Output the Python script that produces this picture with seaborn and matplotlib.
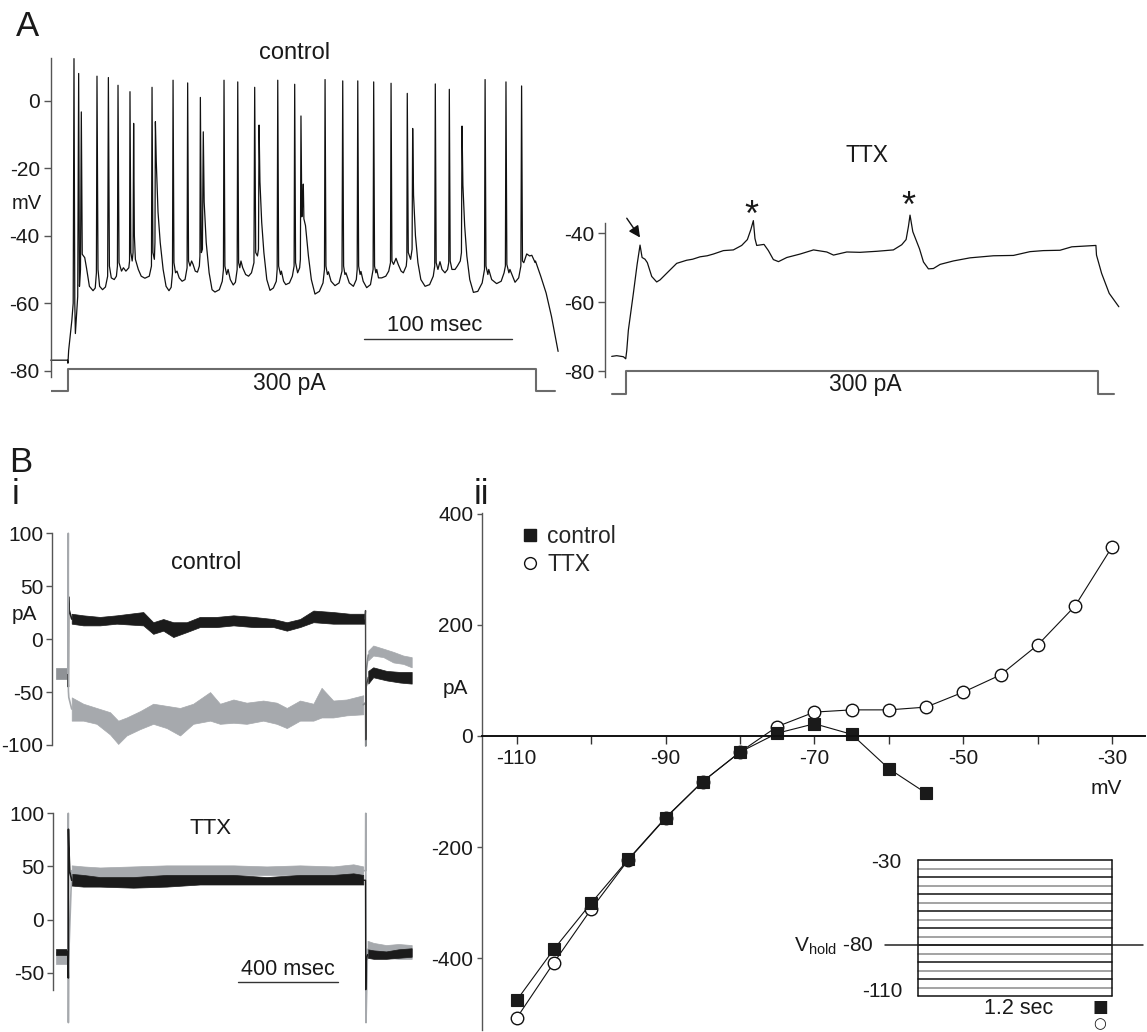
import numpy as np
import pandas as pd
import matplotlib
matplotlib.use("Agg")
import matplotlib.pyplot as plt
from matplotlib.lines import Line2D
import seaborn as sns

sns.set_theme(style="ticks")
plt.rcParams["font.family"] = ["Liberation Sans", "DejaVu Sans"]
plt.rcParams["mathtext.default"] = "regular"

# ---------------- DATA ----------------
# Panel A, control: membrane potential key points (ms, mV)
ctrl_pts = [
    (0, -76.9), (11.5, -76.9), (11.8, -77.8), (12.3, -74), (14.5, -65), (15.4, -60), (15.95, 12.5),
    (16.5, -60), (16.9, -69), (18.5, -58), (19.15, 8.1), (19.7, -55), (20.4, -50), (20.97, -3.3),
    (21.6, -45.5), (23.3, -46.5), (24.5, -49.5), (26.5, -55), (29.0, -56.3), (30.5, -55.5), (31.3, -51),
    (31.7, 7.3), (32.4, -50), (33.5, -55), (35.5, -56.0), (37.5, -55.2), (39.0, -52), (39.5, 6.9),
    (40.2, -49), (41.5, -52.5), (43.5, -53), (45.0, -52), (45.7, -49), (46.1, 4.6), (46.8, -48),
    (48.5, -50.5), (49.8, -49.5), (51.5, -50.5), (53.5, -49.5), (54.0, -47.5), (54.3, 2.7), (54.9, -45),
    (55.8, -47.5), (56.4, -45), (56.8, -6.7), (57.3, -40), (58.0, -47), (60, -50), (62, -52),
    (64.5, -52.6), (67.5, -52), (69.0, -49), (69.4, 4.0), (70.0, -45), (71.0, -47), (71.4, -42),
    (71.7, -6.2), (72.3, -18), (73.5, -33), (75.0, -42), (77.0, -50), (79.0, -55), (81.0, -56.3),
    (82.5, -55.3), (83.4, -51), (83.8, 6.1), (84.4, -48), (85.5, -51), (86.5, -50.5), (88.0, -52.5),
    (90.0, -53.5), (92.0, -53), (93.4, -49.5), (93.8, 5.3), (94.4, -47.5), (95.4, -49), (96.5, -47.5),
    (97.5, -48.5), (99.0, -50.5), (100.5, -50.8), (101.8, -49), (102.2, -46), (102.5, 1.0), (103.2, -45),
    (103.9, -44), (104.5, -9.2), (105.1, -30), (106.5, -42), (108.5, -51), (110.5, -56), (112.5, -56.7),
    (115.5, -56), (117.5, -53.5), (118.3, -50), (118.7, 6.1), (119.3, -49), (120.5, -51.5), (121.5, -50),
    (123.0, -53), (125.0, -54.6), (126.5, -53.8), (127.7, -50), (128.1, 5.6), (128.7, -48), (129.5, -49.5),
    (130.3, -47.5), (131.5, -49.5), (133.5, -51.5), (135.5, -52), (137.5, -51), (139.2, -48), (139.7, 4.0),
    (140.4, -45), (141.6, -46), (142.3, -44), (142.7, -7.2), (143.3, -24), (144.5, -36), (146.0, -45),
    (148.0, -53), (150.2, -56.2), (152.5, -55.5), (154.5, -53.5), (155.1, -50), (155.5, 6.1), (156.1, -49),
    (157.4, -51.5), (158.0, -50.5), (159.5, -53.5), (161.0, -54.5), (163.5, -54), (165.5, -52), (166.7, -49),
    (167.1, 4.9), (167.7, -48), (169.1, -51), (170.5, -49.5), (171.0, -47), (171.4, -4.5), (172.0, -34.4),
    (172.6, -30), (173.0, -24.7), (173.4, -35), (174.5, -37), (176.5, -46), (178.5, -53), (181.0, -57.3),
    (184.0, -56.5), (186.5, -54), (187.5, -50), (187.9, 6.3), (188.5, -49), (189.5, -51.5), (190.2, -50.7),
    (192.0, -53.5), (194.7, -54.8), (197.5, -54), (199.5, -50.5), (200.0, 5.9), (200.6, -49), (201.5, -51.5),
    (202.2, -51), (204.5, -54), (207.3, -55), (209.3, -53), (209.9, -50), (210.3, 5.9), (210.9, -49),
    (211.9, -51.5), (212.5, -50.6), (214.0, -53.5), (216.4, -55.4), (219.0, -54.5), (220.8, -50), (221.2, 5.6),
    (221.8, -49), (222.7, -51), (223.3, -50), (224.5, -52.5), (226.7, -52.5), (229.5, -52), (231.5, -50.5),
    (232.7, -48), (233.1, 5.2), (233.7, -47.5), (234.8, -48.5), (236.5, -46.7), (238.0, -48.5), (240.0, -50.5),
    (241.5, -51), (243.5, -49), (243.9, -47), (244.2, 2.2), (244.9, -45), (246.5, -47), (247.5, -44),
    (247.9, -8.2), (248.5, -28), (249.8, -40), (251.5, -48), (253.5, -53), (256.4, -55), (259.5, -54.5),
    (262.0, -52), (263.0, -49), (263.4, 5.0), (264.0, -48), (265.2, -50), (266.6, -47.7), (268.0, -50),
    (270.0, -51), (271.8, -50), (272.6, -48), (273.0, 3.4), (273.6, -47.5), (274.8, -50), (276.9, -50),
    (278.5, -49), (280.5, -47.5), (281.3, -45), (281.7, -7.5), (282.3, -25), (283.5, -37), (285.0, -46),
    (287.0, -53), (289.5, -56.8), (292.5, -56.5), (295.5, -54), (297.1, -50), (297.5, 6.3), (298.1, -49),
    (299.4, -51.5), (300.0, -50), (302.0, -53), (305.4, -54.2), (308.5, -53.5), (310.5, -51), (311.4, -49),
    (311.8, 5.6), (312.4, -48.5), (313.8, -51), (314.5, -50), (318.0, -53.8), (320.5, -52.5), (322.0, -49),
    (322.5, 4.4), (323.1, -47.5), (324.0, -48), (326.0, -45.4), (328.0, -46), (329.5, -45.8), (331.7, -47.9),
    (332.0, -47.5), (335.6, -52), (339.3, -57), (343.0, -64), (347.5, -74.3),
]
# Panel A, TTX: membrane potential key points (ms, mV)
ttx_pts = [
    (4.6, -75.7), (8, -75.5), (12.6, -75.8), (14.2, -76.4), (14.9, -74), (16.0, -68.1), (19.4, -57.5),
    (22, -49), (24.0, -43.4), (25.4, -47.0), (27.4, -47.5), (29.0, -48.5), (32.0, -52.5), (35.4, -54.1),
    (37.7, -53.5), (42.2, -51.6), (49.1, -48.7), (55.9, -47.8), (60, -47.5), (65.1, -46.8), (70, -46.5),
    (74.2, -46.0), (81.1, -45.0), (87.9, -44.8), (93.6, -43.5), (97.5, -41.8), (99.8, -39), (101.6, -36.3),
    (102.7, -41.5), (103.9, -43.5), (108.9, -43.2), (111.9, -45), (115.3, -47.6), (118.8, -48.2),
    (124.5, -47.0), (133.6, -46.0), (142.8, -44.8), (151.9, -45.4), (156.5, -46.3), (165.6, -45.4),
    (174.7, -45.5), (186.1, -45.2), (197.5, -44.8), (203.2, -43.3), (206.2, -41.8), (207.8, -38),
    (208.9, -34.7), (210.8, -39.5), (213.1, -42), (215.4, -44.5), (218.1, -48.3), (221.5, -50.3),
    (224.9, -50.2), (229.5, -49.0), (238.6, -48.0), (250.0, -47.1), (266.0, -46.5), (279.7, -46.4),
    (291.1, -45.3), (300.2, -45.0), (311.6, -44.9), (319.7, -43.9), (336.2, -43.5), (336.6, -46.3),
    (340.1, -51.6), (345.3, -57.4), (351.9, -61.3),
]
ctrl_step_t = [0, 11.85, 11.85, 332.4, 332.4, 345.1]
ctrl_step_i = [0, 0, 300, 300, 0, 0]
ttx_step_t = [4.6, 14.4, 14.4, 337.5, 337.5, 348.6]
ttx_step_i = [0, 0, 300, 300, 0, 0]
a_ctrl_yticks = [0, -20, -40, -60, -80]
a_ttx_yticks = [-40, -60, -80]

# Panel B i, control: noisy current bands (ms, pA)
bc_gray_t = [13.7, 60.4, 114, 168, 201, 235, 289, 342, 396, 450, 503, 571, 611, 665, 718, 785, 839, 880,
             933, 987, 1020, 1067, 1121, 1188]
bc_gray_hi = [-55, -61, -65, -69, -77, -74, -68, -61, -63, -65, -61, -50, -61, -57, -60, -58, -60, -65,
              -58, -61, -46, -58, -57, -53]
bc_gray_lo = [-77, -77, -80, -90, -99, -91, -85, -80, -84, -91, -80, -77, -80, -79, -80, -77, -80, -84,
              -77, -77, -74, -74, -72, -71]
bc_black_t = [13.7, 60.4, 127.5, 194.6, 302, 342, 382.5, 422.8, 476.4, 530, 597, 665, 745.7, 826, 880,
              933, 987, 1067, 1134, 1195]
bc_black_hi = [24, 22.5, 21, 22.5, 25.6, 16, 19, 16, 16, 21, 21, 22.5, 21, 19, 16, 19, 27, 25.6, 24, 24]
bc_black_lo = [14.6, 13, 13, 14.6, 13, 5, 8, 2, 6.6, 11.4, 11.4, 13, 11.4, 11.4, 8, 11.4, 16, 14.6, 14.6, 14.6]
bc_pre_t = [-49.5, -2]
bc_pre_hi = [-27, -27]
bc_pre_lo = [-37.6, -37.6]
bc_post_gray_t = [1208, 1228, 1269, 1309, 1349, 1383]
bc_post_gray_hi = [-10.8, -6, -9, -12, -15.5, -17]
bc_post_gray_lo = [-20, -15.5, -17, -22, -23.4, -26.6]
bc_post_black_t = [1208, 1228, 1282, 1336, 1383]
bc_post_black_hi = [-30, -26.6, -30, -31, -31]
bc_post_black_lo = [-42, -36, -39, -41, -42]
bc_on_gray_t, bc_on_gray_v = [-2, 0, 0.5, 2, 13.7], [-32, 100, -49, -55, -66]
bc_on_black_t, bc_on_black_v = [-2, 0, 1, 3, 13.7], [-32, -45, 40, 28, 19]
bc_off_gray_t, bc_off_gray_v = [1188, 1197, 1198, 1200, 1208], [-62, -60, -101, -30, -15]
bc_off_black_t, bc_off_black_v = [1195, 1197, 1198, 1200, 1208], [19, 27, -95, -45, -36]
bi_ctrl_yticks = [100, 50, 0, -50, -100]

# Panel B i, TTX
bt_t = [13.7, 60.4, 127.5, 261.7, 396, 530, 665, 799, 933, 1067, 1148, 1188]
bt_black_hi = [43, 42, 40, 40, 42, 42, 42, 40, 42, 42, 43.5, 42]
bt_black_lo = [32, 31, 31, 30, 31, 33, 33, 33, 33, 33, 33, 33]
bt_gray_hi = [51, 50, 49, 50, 51, 51, 51, 50, 51, 50, 52, 50]
bt_gray_lo = [42, 42, 40, 40, 42, 42, 42, 42, 42, 42, 42, 42]
bt_pre_t = [-49.5, -2]
bt_pre_black_hi, bt_pre_black_lo = [-28, -28], [-33, -33]
bt_pre_gray_hi, bt_pre_gray_lo = [-31, -31], [-42, -42]
bt_post_t = [1205, 1230, 1280, 1330, 1383]
bt_post_black_hi = [-28, -29, -30, -28, -27]
bt_post_black_lo = [-36, -37, -37, -36, -35]
bt_post_gray_hi = [-20, -22, -24, -23, -24]
bt_post_gray_lo = [-34, -35, -36, -37, -37]
bt_on_gray_t, bt_on_gray_v = [-2, 0, 0.3, 1, 13.7], [-36, 100, -97, -40, 46]
bt_on_black_t, bt_on_black_v = [-2, 0, 0.5, 2, 6, 13.7], [-30, -55, 85, 70, 45, 37]
bt_off_gray_t, bt_off_gray_v = [1188, 1197, 1198, 1199, 1205], [46, 46, 100, -97, -28]
bt_off_black_t, bt_off_black_v = [1188, 1197, 1198, 1199, 1205], [37, 37, -66, -40, -33]
bi_ttx_yticks = [100, 50, 0, -50]

# Panel B ii: I-V relation
ttx_mv = [-110, -105, -100, -95, -90, -85, -80, -75, -70, -65, -60, -55, -50, -45, -40, -35, -30]
ttx_pa = [-508, -408, -312, -223, -148, -82, -29, 17, 43, 47, 47, 52, 79, 110, 164, 234, 341]
ctrl_mv = [-110, -105, -100, -95, -90, -85, -80, -75, -70, -65, -60, -55]
ctrl_pa = [-476, -384, -301, -222, -147, -82, -29, 5, 22, 3, -59, -103]
iv_xticks_major = [-110, -90, -70, -50, -30]
iv_xticks_minor = [-100, -80, -60, -40]
iv_yticks = [400, 200, 0, -200, -400]

# Inset voltage protocol
prot_levels = [-30, -35, -40, -45, -50, -55, -60, -65, -70, -75, -80, -85, -90, -95, -100, -105, -110]
prot_dur = 1.2
v_hold = -80

# ---------------- FIGURE ----------------
W, H = 1147, 1032
fig = plt.figure(figsize=(W / 100, H / 100), dpi=100)
SP = "#555555"
TXT = "#1a1a1a"
TICKFS = 15


def box(l, t, r, b):
    return fig.add_axes([l / W, 1 - b / H, (r - l) / W, (b - t) / H])


def ftext(x, y, s, **kw):
    kw.setdefault("color", TXT)
    return fig.text(x / W, 1 - y / H, s, **kw)


def style_left(ax, ticks, length=5.3, pad=2.5, fs=TICKFS):
    for s in ["top", "right", "bottom"]:
        ax.spines[s].set_visible(False)
    ax.spines["left"].set_color(SP)
    ax.spines["left"].set_linewidth(1.0)
    ax.set_xticks([])
    ax.set_yticks(ticks)
    ax.set_yticklabels([str(v) for v in ticks])
    ax.tick_params(axis="y", direction="out", length=length, width=1.0, color=SP, pad=pad,
                   labelsize=fs, labelcolor=TXT)
    ax.set_facecolor("none")
    ax.set_xlabel("")
    ax.set_ylabel("")


# ---- Panel A control
axA1 = box(50.7, 58.3, 560, 376.7)
df = pd.DataFrame(ctrl_pts, columns=["t", "v"])
sns.lineplot(data=df, x="t", y="v", sort=False, estimator=None, color="#111111", linewidth=0.9, ax=axA1)
for l in axA1.lines:
    l.set_clip_on(False)
axA1.set_xlim(0, 348.8)
axA1.set_ylim(-81.8, 12.6)
style_left(axA1, a_ctrl_yticks)
axA1.plot([214.8, 315.6], [-70.7, -70.7], color="#333333", lw=1.0)
axA1.text(262.7, -66.5, "100 msec", ha="center", va="center", fontsize=15.8, color=TXT)

axA1s = box(50.7, 360, 560, 400)
sns.lineplot(x=ctrl_step_t, y=ctrl_step_i, sort=False, estimator=None, color="#6b6b6b", linewidth=1.5, ax=axA1s)
axA1s.set_xlim(0, 348.8)
axA1s.set_ylim(-128.6, 424.5)
axA1s.axis("off")

# ---- Panel A TTX
axA2 = box(605, 222.7, 1120, 376.7)
df2 = pd.DataFrame(ttx_pts, columns=["t", "v"])
sns.lineplot(data=df2, x="t", y="v", sort=False, estimator=None, color="#111111", linewidth=0.9, ax=axA2)
for l in axA2.lines:
    l.set_clip_on(False)
axA2.set_xlim(0, 352.7)
axA2.set_ylim(-81.6, -36.9)
style_left(axA2, a_ttx_yticks)
axA2.text(100.5, -35.0, "*", ha="center", va="center", fontsize=26, color=TXT)
axA2.text(207.7, -32.6, "*", ha="center", va="center", fontsize=26, color=TXT)
axA2.annotate("", xy=(24.0, -41.2), xytext=(14.9, -35.6), annotation_clip=False,
              arrowprops=dict(arrowstyle="-|>", color="#111111", lw=1.0, mutation_scale=17,
                              shrinkA=0, shrinkB=0))

axA2s = box(605, 360, 1120, 400)
sns.lineplot(x=ttx_step_t, y=ttx_step_i, sort=False, estimator=None, color="#6b6b6b", linewidth=1.5, ax=axA2s)
axA2s.set_xlim(0, 352.7)
axA2s.set_ylim(-77.2, 437.7)
axA2s.axis("off")

ftext(27.5, 26, "A", fontsize=25, ha="center", va="center")
ftext(295, 52.7, "control", fontsize=17, ha="center", va="center")
ftext(867, 156, "TTX", fontsize=16.5, ha="center", va="center")
ftext(26.7, 203.3, "mV", fontsize=14.5, ha="center", va="center")
ftext(289, 383.3, "300 pA", fontsize=16.5, ha="center", va="center")
ftext(865, 385, "300 pA", fontsize=16.5, ha="center", va="center")

# ---- Panel B i control
GRAY = "#a6a9ad"
BLK = "#1b1b1b"
axB1 = box(52.3, 533.3, 412.4, 745)
axB1.fill_between(bc_pre_t, bc_pre_lo, bc_pre_hi, color="#8f9296", lw=0.5)
axB1.fill_between(bc_black_t, bc_black_lo, bc_black_hi, color=BLK, lw=0.5)
axB1.fill_between(bc_gray_t, bc_gray_lo, bc_gray_hi, color=GRAY, lw=0.5)
axB1.fill_between(bc_post_black_t, bc_post_black_lo, bc_post_black_hi, color=BLK, lw=0.5)
axB1.fill_between(bc_post_gray_t, bc_post_gray_lo, bc_post_gray_hi, color=GRAY, lw=0.5)
sns.lineplot(x=bc_on_black_t, y=bc_on_black_v, sort=False, estimator=None, color=BLK, lw=1.2, ax=axB1)
sns.lineplot(x=bc_on_gray_t, y=bc_on_gray_v, sort=False, estimator=None, color=GRAY, lw=1.2, ax=axB1)
sns.lineplot(x=bc_off_gray_t, y=bc_off_gray_v, sort=False, estimator=None, color="#8a8d90", lw=1.2, ax=axB1)
sns.lineplot(x=bc_off_black_t, y=bc_off_black_v, sort=False, estimator=None, color="#444444", lw=1.0, ax=axB1)
for l in axB1.lines:
    l.set_clip_on(False)
for c in axB1.collections:
    c.set_clip_on(False)
axB1.set_xlim(-64.4, 1385.8)
axB1.set_ylim(-100, 100)
style_left(axB1, bi_ctrl_yticks, length=4, pad=2.5)
axB1.text(557, 72.8, "control", ha="center", va="center", fontsize=16.8, color=TXT)

# ---- Panel B i TTX
axB2 = box(53.3, 813.3, 412.4, 990)
axB2.fill_between(bt_pre_t, bt_pre_gray_lo, bt_pre_gray_hi, color=GRAY, lw=0.5)
axB2.fill_between(bt_pre_t, bt_pre_black_lo, bt_pre_black_hi, color=BLK, lw=0.5)
axB2.fill_between(bt_t, bt_gray_lo, bt_gray_hi, color=GRAY, lw=0.5)
axB2.fill_between(bt_t, bt_black_lo, bt_black_hi, color=BLK, lw=0.5)
axB2.fill_between(bt_post_t, bt_post_gray_lo, bt_post_gray_hi, color=GRAY, lw=0.5)
axB2.fill_between(bt_post_t, bt_post_black_lo, bt_post_black_hi, color=BLK, lw=0.5)
sns.lineplot(x=bt_on_gray_t, y=bt_on_gray_v, sort=False, estimator=None, color=GRAY, lw=1.2, ax=axB2)
sns.lineplot(x=bt_on_black_t, y=bt_on_black_v, sort=False, estimator=None, color=BLK, lw=1.2, ax=axB2)
sns.lineplot(x=bt_off_gray_t, y=bt_off_gray_v, sort=False, estimator=None, color=GRAY, lw=1.2, ax=axB2)
sns.lineplot(x=bt_off_black_t, y=bt_off_black_v, sort=False, estimator=None, color=BLK, lw=1.0, ax=axB2)
for l in axB2.lines:
    l.set_clip_on(False)
for c in axB2.collections:
    c.set_clip_on(False)
axB2.set_xlim(-60.4, 1385.8)
axB2.set_ylim(-66.3, 100)
style_left(axB2, bi_ttx_yticks, length=4, pad=2.5)
axB2.text(571, 86, "TTX", ha="center", va="center", fontsize=16, color=TXT)
axB2.plot([684.6, 1085], [-58.4, -58.4], color="#333333", lw=1.0)
axB2.text(885, -47, "400 msec", ha="center", va="center", fontsize=15.6, color=TXT)

ftext(21, 463, "B", fontsize=25, ha="center", va="center")
ftext(16, 494, "i", fontsize=25, ha="center", va="center")
ftext(481, 494, "ii", fontsize=25, ha="center", va="center")
ftext(24, 615, "pA", fontsize=15, ha="center", va="center")

# ---- Panel B ii
axC = box(481.7, 513.3, 1145, 1030)
sns.lineplot(x=ttx_mv, y=ttx_pa, sort=False, estimator=None, color="#111111", lw=0.8, marker="o",
             markersize=9, markerfacecolor="white", markeredgecolor="#111111", markeredgewidth=1.0, ax=axC)
sns.lineplot(x=ctrl_mv, y=ctrl_pa, sort=False, estimator=None, color="#111111", lw=0.8, marker="s",
             markersize=8.8, markerfacecolor="#1a1a1a", markeredgecolor="#1a1a1a", markeredgewidth=0.8, ax=axC)
for l in axC.lines:
    l.set_clip_on(False)
axC.set_xlim(-114.7, -25.6)
axC.set_ylim(-529.5, 401)
axC.set_facecolor("none")
axC.spines["top"].set_visible(False)
axC.spines["right"].set_visible(False)
axC.spines["left"].set_color(SP)
axC.spines["left"].set_linewidth(1.0)
axC.spines["bottom"].set_position(("data", 0))
axC.spines["bottom"].set_color("#111111")
axC.spines["bottom"].set_linewidth(1.4)
axC.set_xticks(iv_xticks_major)
axC.set_xticklabels([str(v) for v in iv_xticks_major])
axC.set_xticks(iv_xticks_minor, minor=True)
axC.set_yticks(iv_yticks)
axC.set_yticklabels([str(v) for v in iv_yticks])
axC.tick_params(axis="x", which="both", direction="out", length=5.5, width=1.0, color="#333333",
                pad=4, labelsize=TICKFS, labelcolor=TXT)
axC.tick_params(axis="y", direction="out", length=3.6, width=1.0, color=SP, pad=2.5,
                labelsize=TICKFS, labelcolor=TXT)
axC.set_xlabel("")
axC.set_ylabel("")
handles = [Line2D([], [], ls="none", marker="s", markersize=8.5, markerfacecolor="#1a1a1a",
                  markeredgecolor="#1a1a1a"),
           Line2D([], [], ls="none", marker="o", markersize=8.5, markerfacecolor="white",
                  markeredgecolor="#111111")]
axC.legend(handles, ["control", "TTX"], loc="upper left", bbox_to_anchor=(521 / W, 1 - 525 / H),
           bbox_transform=fig.transFigure, frameon=False, fontsize=16.5, handlelength=0.8,
           handletextpad=0.35, labelspacing=0.2, borderpad=0, borderaxespad=0)
ftext(455, 688.3, "pA", fontsize=15, ha="center", va="center")
ftext(1106.7, 788.3, "mV", fontsize=15, ha="center", va="center")

# ---- Inset protocol
axI = box(880, 850, 1145, 1000)
for i, lv in enumerate(prot_levels):
    col = "#111111" if i % 2 == 0 else "#8a8a8a"
    axI.plot([0, prot_dur], [lv, lv], color=col, lw=1.1)
axI.plot([0, 0], [prot_levels[-1], prot_levels[0]], color="#111111", lw=1.1)
axI.plot([prot_dur, prot_dur], [prot_levels[-1], prot_levels[0]], color="#111111", lw=1.1)
axI.plot([-0.203, 1.395], [v_hold, v_hold], color="#222222", lw=1.1)
axI.set_xlim(-0.233, 1.405)
axI.set_ylim(-112.35, -24.1)
axI.axis("off")
axI.text(-0.099, -31.2, "-30", ha="right", va="center", fontsize=15, color=TXT)
axI.text(-0.093, -107.5, "-110", ha="right", va="center", fontsize=15, color=TXT)
axI.text(-0.275, -80.6, r"$V_{hold}$ -80", ha="right", va="center", fontsize=15, color=TXT)
axI.text(0.622, -117.3, "1.2 sec", ha="center", va="center", fontsize=15.5, color=TXT)
ftext(1100, 1007.3, "\u25A0", fontsize=12, ha="center", va="center", family="DejaVu Sans")
ftext(1100, 1024, "\u25CB", fontsize=10.5, ha="center", va="center", family="DejaVu Sans")

fig.savefig("out.png", dpi=100, facecolor="white")
